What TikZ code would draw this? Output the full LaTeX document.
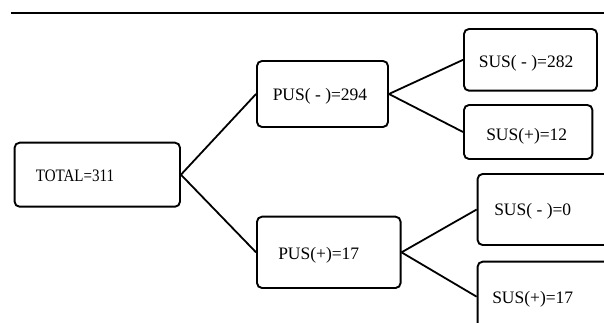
\documentclass[tikz,border=0pt]{standalone}
\usepackage{fontspec}
\setmainfont{Liberation Serif}
\begin{document}
\begin{tikzpicture}[x=1pt,y=1pt,
  box/.style={draw, line width=1.9pt, rounded corners=5pt, inner sep=0pt},
  txt/.style={anchor=west, inner sep=0pt, font=\fontsize{17.5}{20}\selectfont},
  conn/.style={line width=1.8pt}]
\useasboundingbox (0,0) rectangle (604,323);
\clip (0,0) rectangle (604,323);
\draw[line width=1.2pt] (10.8,310) coordinate (rl) -- (604,310) coordinate (rr);
% boxes
\node[box, minimum width=165.4pt, minimum height=64pt] (total) at (97.3,148.3) {};
\node[box, minimum width=131pt, minimum height=66pt] (pm) at (322.5,229) {};
\node[box, minimum width=143.6pt, minimum height=71.3pt] (pp) at (328.8,70.65) {};
\node[box, minimum width=133pt, minimum height=61.7pt] (smm) at (530.5,263.15) {};
\node[box, minimum width=128.4pt, minimum height=54pt] (smp) at (528.2,191) {};
\node[box, minimum width=134.4pt, minimum height=71pt] (spm) at (544.8,113.5) {};
\node[box, minimum width=134.4pt, minimum height=70pt] (spp) at (544.8,26.3) {};
% texts
\node[txt] (ttotal) at ([xshift=22pt,yshift=-1.3pt]total.west) {\scalebox{0.86}[1]{TOTAL=311}};
\node[txt] (tpm) at ([xshift=16.5pt,yshift=-2.5pt]pm.west) {PUS( - )=294};
\node[txt] (tpp) at ([xshift=22pt,yshift=-2.6pt]pp.west) {PUS(+)=17};
\node[txt] (tsmm) at ([xshift=15.6pt,yshift=-3pt]smm.west) {SUS( - )=282};
\node[txt] (tsmp) at ([xshift=23pt,yshift=-4.7pt]smp.west) {SUS(+)=12};
\node[txt] (tspm) at ([xshift=17.4pt,yshift=-2.2pt]spm.west) {SUS( - )=0};
\node[txt] (tspp) at ([xshift=15.4pt,yshift=-2.3pt]spp.west) {SUS(+)=17};
% connectors
\draw[conn] (total.east) -- (pm.west);
\draw[conn] (total.east) -- (pp.west);
\draw[conn] (pm.east) -- (smm.west);
\draw[conn] (pm.east) -- (smp.west);
\draw[conn] (pp.east) -- (spm.west);
\draw[conn] (pp.east) -- (spp.west);
\end{tikzpicture}
\end{document}
